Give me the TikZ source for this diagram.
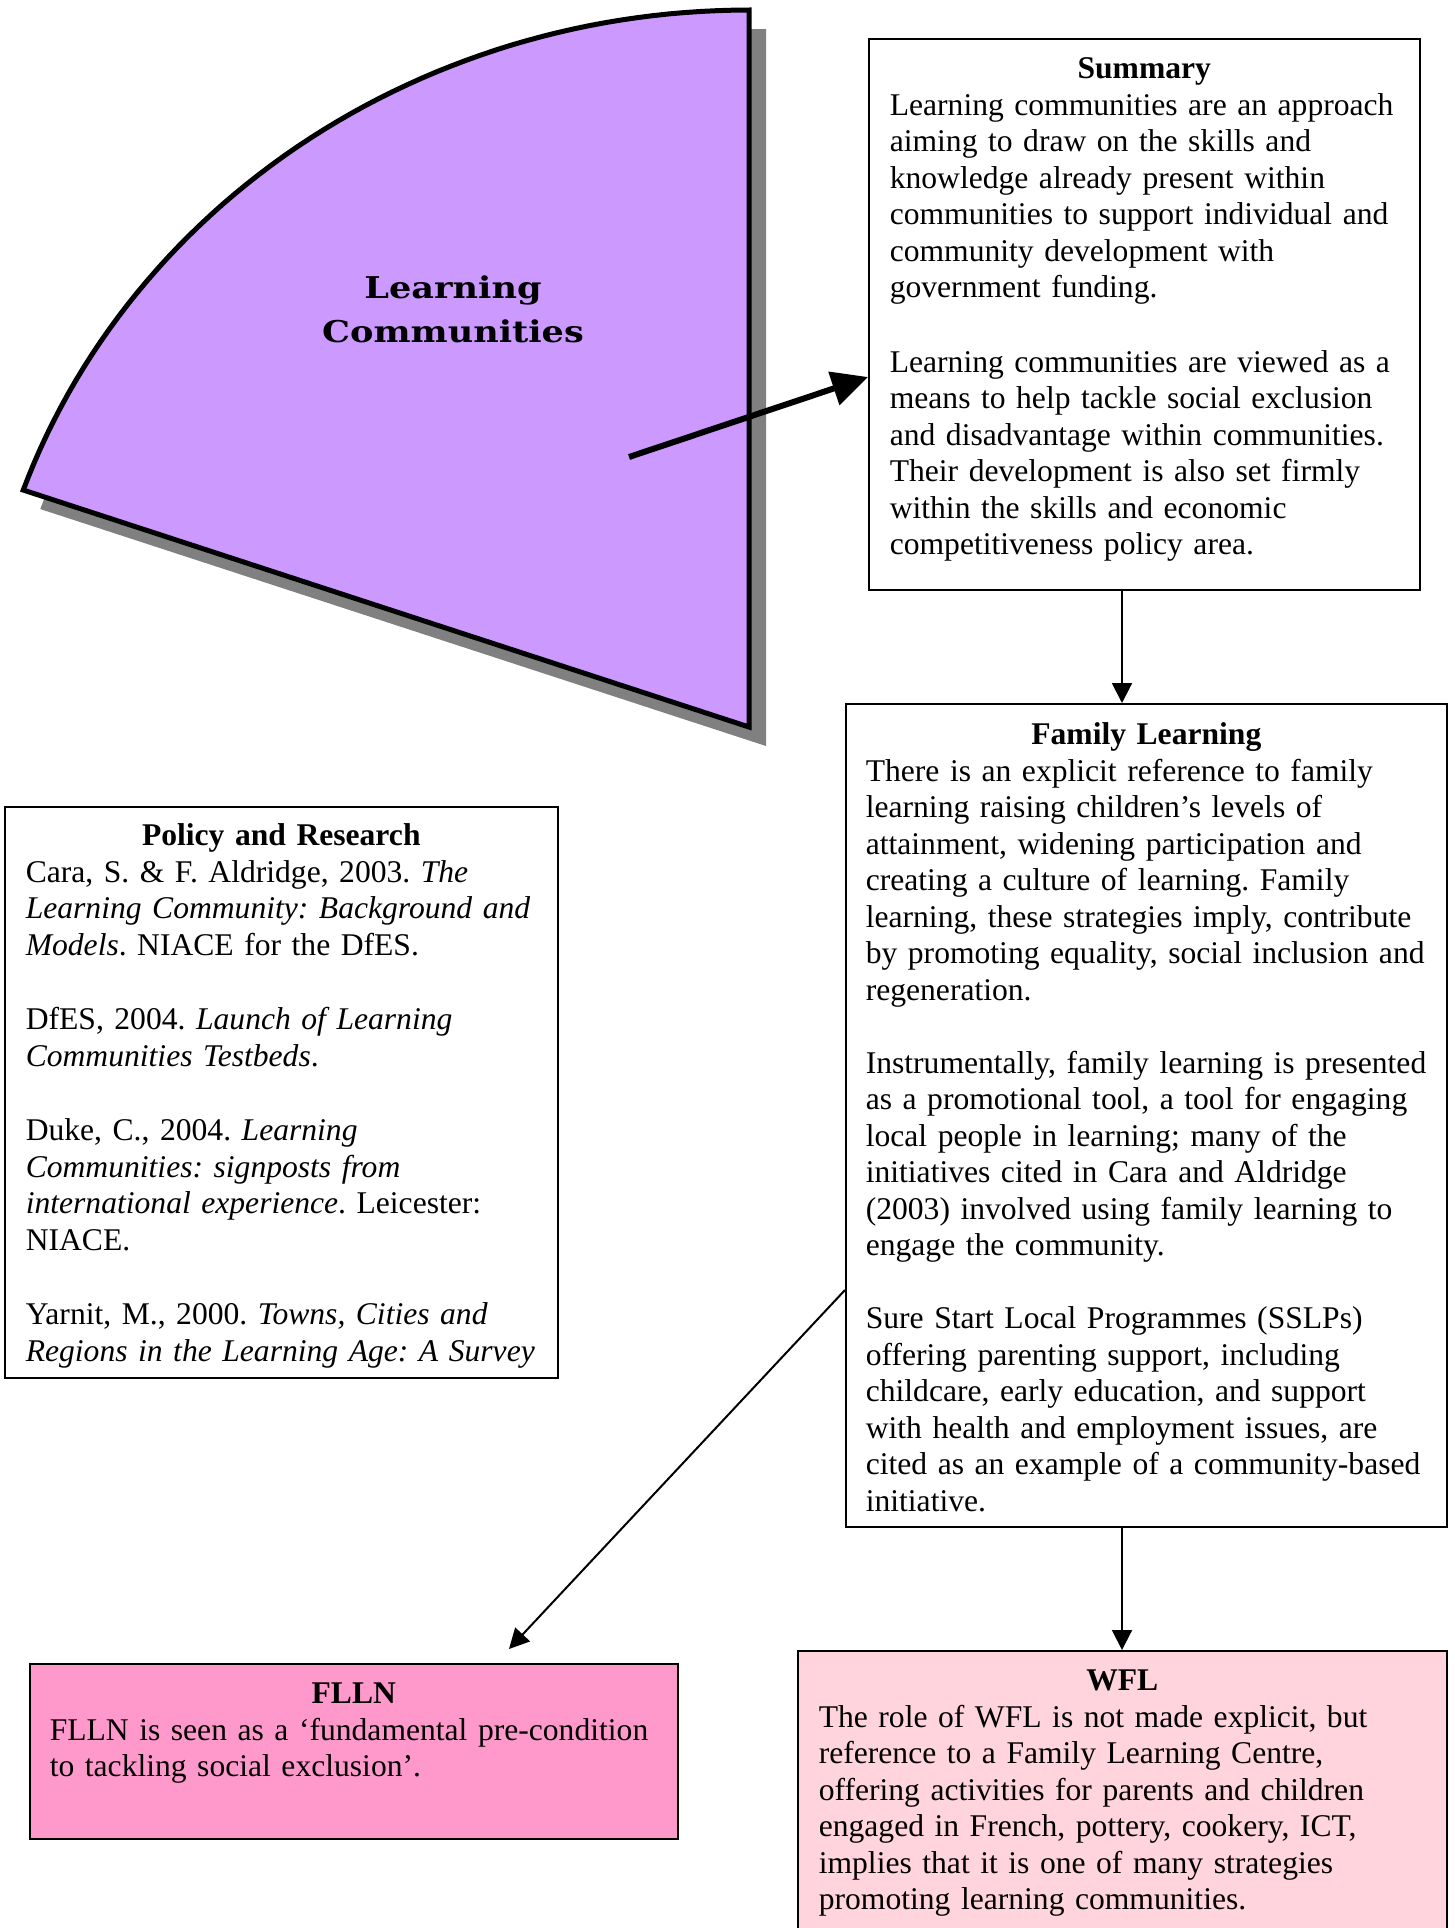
\documentclass[tikz,border=0pt]{standalone}
\usepackage{fontspec}
\setmainfont{Liberation Serif}
\newfontfamily\lcfont{DejaVu Serif}[FakeStretch=1.17]
\usetikzlibrary{arrows.meta, positioning, calc}
\definecolor{lavender}{RGB}{204, 153, 255}
\definecolor{rose}{RGB}{255, 153, 204}
\definecolor{palerose}{RGB}{255, 212, 220}
\definecolor{shadowgrey}{RGB}{128, 128, 128}
\frenchspacing
% centred bold title, then ragged lines that may run a little long
\newcommand{\heading}[1]{{\centering\textbf{#1}\par}\rightskip=-40pt plus 1fil\relax}

\begin{document}
\begin{tikzpicture}[
        x = 1pt, y = -1pt, % one unit per pixel, y going down
        > = {Triangle[length=20pt, width=20pt]}, % arrow head style
        line width = 2pt, % line style
        font = \fontsize{31.6}{36.5}\selectfont
    ]
        \tikzstyle{textbox}=[
            draw,
            line width = 1.6pt,
            anchor = north west,
            inner xsep = 21pt,
            inner ysep = 0pt,
            text height = 40pt
        ]
        \useasboundingbox (0,0) rectangle (1455,1928);

        % the sector and its shadow
        \fill[shadowgrey, shift={(17,19)}] (749,727) -- plot[domain=90:160.7, samples=60]
            ({749+769*cos(\x)}, {727-717*sin(\x)}) -- cycle;
        \draw[line width=5pt, fill=lavender, line join=miter] (749,727) -- plot[domain=90:160.7, samples=60]
            ({749+769*cos(\x)}, {727-717*sin(\x)}) -- cycle;
        \node[anchor=base, text width=320pt, align=center,
            font=\lcfont\bfseries\fontsize{30}{44}\selectfont] (lc) at (453,298) {Learning\\Communities};

        \node[textbox, text width=509pt, text depth=511pt] (summary) at (868,38) {
        \heading{Summary}
        Learning communities are an approach\\
        aiming to draw on the skills and\\
        knowledge already present within\\
        communities to support individual and\\
        community development with\\
        government funding.\\[38pt]
        Learning communities are viewed as a\\
        means to help tackle social exclusion\\
        and disadvantage within communities.\\
        Their development is also set firmly\\
        within the skills and economic\\
        competitiveness policy area.};

        \node[textbox, inner xsep=20pt, text height=41pt, text width=561pt, text depth=782pt] (family) at (845,703) {
        \heading{Family Learning}
        There is an explicit reference to family\\
        learning raising children's levels of\\
        attainment, widening participation and\\
        creating a culture of learning. Family\\
        learning, these strategies imply, contribute\\
        by promoting equality, social inclusion and\\
        regeneration.\\[36.5pt]
        Instrumentally, family learning is presented\\
        as a promotional tool, a tool for engaging\\
        local people in learning; many of the\\
        initiatives cited in Cara and Aldridge\\
        (2003) involved using family learning to\\
        engage the community.\\[36.5pt]
        Sure Start Local Programmes (SSLPs)\\
        offering parenting support, including\\
        childcare, early education, and support\\
        with health and employment issues, are\\
        cited as an example of a community-based\\
        initiative.};

        \node[textbox, text height=39pt, text width=511pt, text depth=532pt] (policy) at (4,806) {
        \heading{Policy and Research}
        Cara, S. \& F. Aldridge, 2003. \textit{The}\\
        \textit{Learning Community: Background and}\\
        \textit{Models}. NIACE for the DfES.\\[38pt]
        DfES, 2004. \textit{Launch of Learning}\\
        \textit{Communities Testbeds}.\\[38pt]
        Duke, C., 2004. \textit{Learning}\\
        \textit{Communities: signposts from}\\
        \textit{international experience}. Leicester:\\
        NIACE.\\[38pt]
        Yarnit, M., 2000. \textit{Towns, Cities and}\\
        \textit{Regions in the Learning Age: A Survey}};

        \node[textbox, fill=rose, inner xsep=20pt, text width=608pt, text depth=135pt] (flln) at (29,1663) {
        \heading{FLLN}
        FLLN is seen as a `fundamental pre-condition\\
        to tackling social exclusion'.};

        \node[textbox, fill=palerose, text width=607pt, text depth=260pt] (wfl) at (797,1650) {
        \heading{WFL}
        The role of WFL is not made explicit, but\\
        reference to a Family Learning Centre,\\
        offering activities for parents and children\\
        engaged in French, pottery, cookery, ICT,\\
        implies that it is one of many strategies\\
        promoting learning communities.};

        % connectors
        \coordinate (lc-tail) at (629,457);
        \coordinate (axis) at (1122,0);
        \coordinate (fl-out) at (0,1290);
        \coordinate (flln-in) at (509,1649);

        \draw[->, >={Triangle[length=36pt, width=34pt]}, line width=6pt]
            (lc-tail) -- ($(summary.north west)+(0,339)$);
        \draw[->] (summary.south -| axis) -- (family.north -| axis);
        \draw[->] (family.south -| axis) -- (wfl.north -| axis);
        \draw[->] (family.west |- fl-out) -- (flln-in);
    \end{tikzpicture}
\end{document}
